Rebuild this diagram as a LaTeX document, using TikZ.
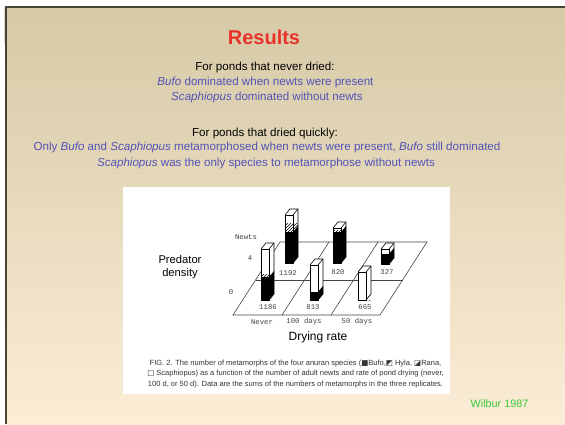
\documentclass[tikz,border=0pt]{standalone}
\usepackage{fontspec}
\setmainfont{Liberation Sans}
\newfontfamily\plotfont{Liberation Mono}
\newfontfamily\symfont{DejaVu Sans}
\usepackage{tikz}
\usetikzlibrary{patterns}
\tikzset{>=latex}
\definecolor{slidetop}{HTML}{D5C9A6}
\definecolor{slidebot}{HTML}{FBEDD6}
\definecolor{slideedge}{HTML}{4A4436}
\definecolor{titlered}{HTML}{E8322A}
\definecolor{textblue}{HTML}{5252B8}
\definecolor{citegreen}{HTML}{3DC83D}
\definecolor{plotgray}{HTML}{444444}
\tikzset{
  body/.style={anchor=base, inner sep=0pt, font=\fontsize{11.6}{13}\selectfont},
  spec/.style={body, text=textblue},
  plotlbl/.style={inner sep=0pt, text=plotgray, font=\plotfont\fontsize{7.3}{8}\selectfont},
  floorline/.style={plotgray, line width=.6pt},
  barline/.style={black, line width=.6pt, line join=round},
}
\newcommand{\sym}[1]{{\symfont#1}}
% x, base, height, bufo part, rana part
\newcommand{\pondbar}[5]{%
  \fill[white](#1,#2)--(#1+8,#2)--(#1+13,#2-6)--(#1+13,#2-#3-6)--(#1+5,#2-#3-6)--(#1,#2-#3)--cycle;
  \fill[black](#1,#2)rectangle(#1+8,#2-#4);
  \fill[black](#1+8,#2)--(#1+13,#2-6)--(#1+13,#2-#4-6)--(#1+8,#2-#4)--cycle;
  \fill[pattern=north east lines](#1,#2-#4)rectangle(#1+13,#2-#4-#5);
  \draw[barline](#1,#2)rectangle(#1+8,#2-#3);
  \draw[barline](#1+8,#2)--(#1+13,#2-6)--(#1+13,#2-#3-6)--(#1+5,#2-#3-6)--(#1,#2-#3);
  \draw[barline](#1+8,#2-#3)--(#1+13,#2-#3-6);
}

\begin{document}
\begin{tikzpicture}[x=1pt, y=-1pt]
    \useasboundingbox(0,0)rectangle(565,424);
    \fill[white](0,0)rectangle(565,424);
    \shade[top color=slidetop, bottom color=slidebot](6,7)rectangle(565,424);
    \fill[slidetop!70!white](3.5,7)rectangle(5.5,43);
    \draw[slideedge, line width=1.5pt](6,424)--(6,7)--(565,7);

    \node[anchor=base, inner sep=0pt, text=titlered, font=\bfseries\fontsize{20}{24}\selectfont](title)at(264,44.3){Results};
    \node[body](neverhead)at(265,70.3){For ponds that never dried:};
    \node[spec](neverbufo)at(265.5,85.5){\textit{Bufo} dominated when newts were present};
    \node[spec](neverscaph)at(267,100.6){\textit{Scaphiopus} dominated without newts};
    \node[body](dryhead)at(265,136){For ponds that dried quickly:};
    \node[spec](drybufo)at(267,150.7){Only \textit{Bufo} and \textit{Scaphiopus} metamorphosed when newts were present, \textit{Bufo} still dominated};
    \node[spec](dryscaph)at(266,166){\textit{Scaphiopus} was the only species to metamorphose without newts};

    \fill[white](123,187)rectangle(450,394);
    \draw[floorline](233,315)--(380,315)--(427,242)--(280,242)--cycle;
    \draw[floorline](255.5,280)--(402.5,280);
    \draw[floorline](282,315)--(329,242);
    \draw[floorline](331,315)--(378,242);
    \pondbar{285}{263}{48}{31}{9}
    \pondbar{333}{263}{35}{31}{2}
    \pondbar{381}{264}{15}{10}{0}
    \pondbar{261}{300}{51}{23}{3}
    \pondbar{310}{300}{35}{8}{0}
    \pondbar{358}{300}{28}{0}{0}

    \node[plotlbl](newts)at(246,237){Newts};
    \node[plotlbl](four)at(250,258){4};
    \node[plotlbl](zero)at(231,292){0};
    \node[plotlbl](nbig)at(288,273){1192};
    \node[plotlbl](nmid)at(338,272){820};
    \node[plotlbl](nlow)at(387,272){327};
    \node[plotlbl](zbig)at(268,307.5){1186};
    \node[plotlbl](zmid)at(313,307.5){813};
    \node[plotlbl](zlow)at(365,307.5){665};
    \node[plotlbl](never)at(262,322){Never};
    \node[plotlbl](hundred)at(304,322){100 days};
    \node[plotlbl](fifty)at(357,322){50 days};

    \node[inner sep=0pt, align=center, font=\fontsize{11.2}{12.5}\selectfont](predator)at(180,267){Predator\\density};
    \node[anchor=base, inner sep=0pt, font=\fontsize{12}{14}\selectfont](dryrate)at(318,340.5){Drying rate};
    \node[inner sep=0pt, align=center, text=black!80, font=\fontsize{7.5}{10.6}\selectfont](caption)at(295.5,374){FIG. 2. The number of metamorphs of the four anuran species (\sym{■}Bufo,\sym{◩} Hyla, \sym{◪}Rana,\\\sym{□} Scaphiopus) as a function of the number of adult newts and rate of pond drying (never,\\100 d, or 50 d). Data are the sums of the numbers of metamorphs in the three replicates.};

    \node[anchor=base, inner sep=0pt, text=citegreen, font=\fontsize{10.8}{13}\selectfont](cite)at(499.5,407){Wilbur 1987};
\end{tikzpicture}
\end{document}
